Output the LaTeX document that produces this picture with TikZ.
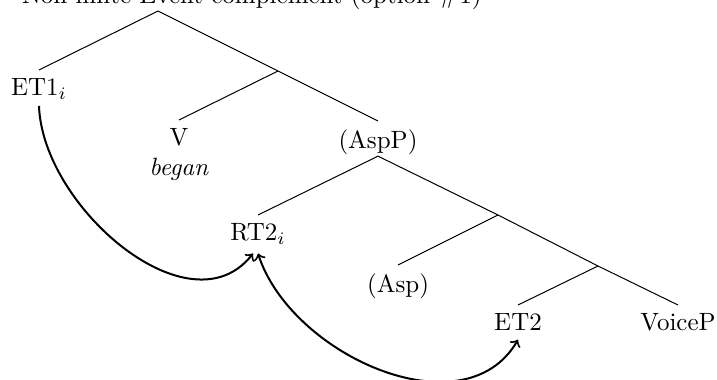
\documentclass[tikz,border=0pt]{standalone}
\begin{document}
\begin{tikzpicture}[x=0.4pt,y=-0.4pt,
  lbl/.style={anchor=north, inner sep=0.3333em},
  branch/.style={line width=0.4pt},
  link/.style={thick}]
\useasboundingbox (0,0) rectangle (717,379);
\node[anchor=base east, inner sep=0] (title) at (482,4) {Non-finite Event complement (option \#1)};
\coordinate (root) at (158,11);
\node[lbl] (et1) at (39,70) {ET1$_i$};
\coordinate (m1) at (278,71);
\node[lbl, align=center] (v) at (179,120) {V\\\textit{began}};
\node[lbl] (aspp) at (378,121) {(AspP)};
\node[lbl] (rt2) at (258,215) {RT2$_i$};
\coordinate (m2) at (498,215);
\node[lbl] (asp) at (398,265) {(Asp)};
\coordinate (m3) at (598,266);
\node[lbl] (et2) at (518,305) {ET2};
\node[lbl] (voicep) at (678,305) {VoiceP};
\draw[branch] (root) -- (et1.north);
\draw[branch] (root) -- (m1);
\draw[branch] (m1) -- (v.north);
\draw[branch] (m1) -- (aspp.north);
\draw[branch] ([yshift=3pt]aspp.south) -- (rt2.north);
\draw[branch] ([yshift=3pt]aspp.south) -- (m2);
\draw[branch] (m2) -- (asp.north);
\draw[branch] (m2) -- (m3);
\draw[branch] (m3) -- (et2.north);
\draw[branch] (m3) -- (voicep.north);
\draw[link,->] ([yshift=1pt]et1.south) to[out=-88,in=-128,looseness=1.0] ([xshift=-2pt]rt2.south);
\draw[link,<->] (rt2.south) to[out=-72,in=-120,looseness=1.0] (et2.south);
\end{tikzpicture}
\end{document}
